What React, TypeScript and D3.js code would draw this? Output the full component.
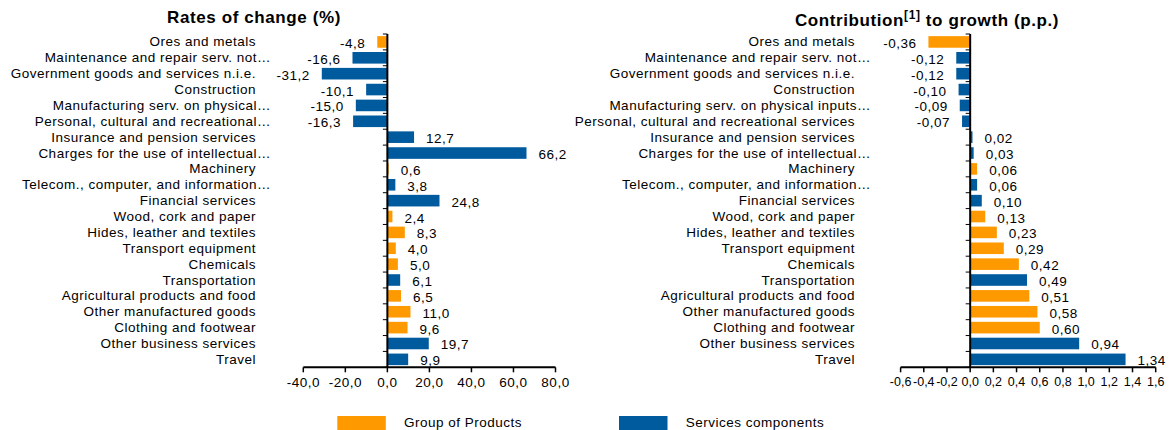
import React from "react";
import * as d3 from "d3";

const categoriesLeft = [
  "Ores and metals",
  "Maintenance and repair serv. not…",
  "Government goods and services n.i.e.",
  "Construction",
  "Manufacturing serv. on physical…",
  "Personal, cultural and recreational…",
  "Insurance and pension services",
  "Charges for the use of intellectual…",
  "Machinery",
  "Telecom., computer, and information…",
  "Financial services",
  "Wood, cork and paper",
  "Hides, leather and textiles",
  "Transport equipment",
  "Chemicals",
  "Transportation",
  "Agricultural products and food",
  "Other manufactured goods",
  "Clothing and footwear",
  "Other business services",
  "Travel",
];

const categoriesRight = [
  "Ores and metals",
  "Maintenance and repair serv. not…",
  "Government goods and services n.i.e.",
  "Construction",
  "Manufacturing serv. on physical inputs…",
  "Personal, cultural and recreational services",
  "Insurance and pension services",
  "Charges for the use of intellectual…",
  "Machinery",
  "Telecom., computer, and information…",
  "Financial services",
  "Wood, cork and paper",
  "Hides, leather and textiles",
  "Transport equipment",
  "Chemicals",
  "Transportation",
  "Agricultural products and food",
  "Other manufactured goods",
  "Clothing and footwear",
  "Other business services",
  "Travel",
];

// "P" = Group of Products, "S" = Services components
const groups = ["P", "S", "S", "S", "S", "S", "S", "S", "P", "S", "S", "P", "P", "P", "P", "S", "P", "P", "P", "S", "S"];

const rates = [-4.8, -16.6, -31.2, -10.1, -15.0, -16.3, 12.7, 66.2, 0.6, 3.8, 24.8, 2.4, 8.3, 4.0, 5.0, 6.1, 6.5, 11.0, 9.6, 19.7, 9.9];
const contributions = [-0.36, -0.12, -0.12, -0.1, -0.09, -0.07, 0.02, 0.03, 0.06, 0.06, 0.1, 0.13, 0.23, 0.29, 0.42, 0.49, 0.51, 0.58, 0.6, 0.94, 1.34];

const rateTicks = [-40, -20, 0, 20, 40, 60, 80];
const contribTicks = [-0.6, -0.4, -0.2, 0, 0.2, 0.4, 0.6, 0.8, 1.0, 1.2, 1.4, 1.6];

const legendItems = [
  { key: "P", label: "Group of Products" },
  { key: "S", label: "Services components" },
];

const COLORS: Record<string, string> = { P: "#FF9900", S: "#005A9E" };
const FONT = "'Liberation Sans', Arial, sans-serif";
const FS = 13.5;
const LS = 0.5;

type PanelProps = {
  cats: string[];
  values: number[];
  ticks: number[];
  domain: [number, number];
  xRange: [number, number];
  labelX: number;
  labelXTrunc: number;
  decimals: number;
  tickFont: number;
  tickSpacing: number;
};

const Y_RANGE: [number, number] = [34, 367.3];

function fmt(v: number, d: number) {
  return v.toFixed(d).replace(".", ",");
}

function Panel({ cats, values, ticks, domain, xRange, labelX, labelXTrunc, decimals, tickFont, tickSpacing }: PanelProps) {
  const x = d3.scaleLinear().domain(domain).range(xRange);
  const idx = cats.map((_, i) => String(i));
  const y = d3.scaleBand().domain(idx).range(Y_RANGE).paddingInner(0.27).paddingOuter(0.135);
  const step = y.step();
  const x0 = x(0);
  const yBottom = Y_RANGE[1];
  return (
    <g>
      {values.map((v, i) => {
        const xa = x(Math.min(0, v));
        const xb = x(Math.max(0, v));
        return (
          <rect
            key={"b" + i}
            x={xa}
            y={y(String(i))!}
            width={Math.max(0.8, xb - xa)}
            height={y.bandwidth()}
            fill={COLORS[groups[i]]}
          />
        );
      })}
      {values.map((v, i) => {
        const cy = y(String(i))! + y.bandwidth() / 2 + 1.5;
        const neg = v < 0;
        return (
          <text
            key={"v" + i}
            x={neg ? x(v) - 12 : x(v) + 12}
            y={cy}
            dominantBaseline="central"
            textAnchor={neg ? "end" : "start"}
            fontSize={FS}
            letterSpacing={LS}
            fontFamily={FONT}
            fill="#000"
          >
            {fmt(v, decimals)}
          </text>
        );
      })}
      {cats.map((c, i) => (
        <text
          key={"c" + i}
          x={c.endsWith("…") ? labelXTrunc : labelX}
          y={y(String(i))! + y.bandwidth() / 2}
          dominantBaseline="central"
          textAnchor="end"
          fontSize={FS}
          letterSpacing={LS}
          fontFamily={FONT}
          fill="#000"
        >
          {c}
        </text>
      ))}
      <line x1={x0} x2={x0} y1={Y_RANGE[0]} y2={yBottom} stroke="#000" strokeWidth={2} />
      {d3.range(cats.length + 1).map((k) => {
        const yy = Y_RANGE[0] + k * step;
        return <line key={"yt" + k} x1={x0 - 4.5} x2={x0} y1={yy} y2={yy} stroke="#000" strokeWidth={1} />;
      })}
      <line x1={xRange[0]} x2={xRange[1]} y1={yBottom} y2={yBottom} stroke="#000" strokeWidth={2} />
      {ticks.map((t, k) => (
        <g key={"xt" + k}>
          <line x1={x(t)} x2={x(t)} y1={yBottom} y2={yBottom + 5} stroke="#000" strokeWidth={1.5} />
          <text
            x={x(t)}
            y={yBottom + 15}
            dominantBaseline="central"
            textAnchor="middle"
            fontSize={tickFont}
            letterSpacing={tickSpacing}
            fontFamily={FONT}
            fill="#000"
          >
            {fmt(t, 1)}
          </text>
        </g>
      ))}
    </g>
  );
}

export default function App() {
  return (
    <svg width={1172} height={430} style={{ display: "block", position: "absolute", left: 0, top: 0 }}>
      <rect width={1172} height={430} fill="#fff" />
      <text x={254} y={17.5} textAnchor="middle" dominantBaseline="central" fontSize={17} letterSpacing={0.6} fontWeight="bold" fontFamily={FONT}>
        Rates of change (%)
      </text>
      <text x={927} y={20} textAnchor="middle" dominantBaseline="central" fontSize={17} letterSpacing={0.6} fontWeight="bold" fontFamily={FONT}>
        Contribution
        <tspan fontSize={12} dy={-5}>[1]</tspan>
        <tspan dy={5}> to growth (p.p.)</tspan>
      </text>
      <Panel
        cats={categoriesLeft}
        values={rates}
        ticks={rateTicks}
        domain={[-40, 80]}
        xRange={[303.3, 555.5]}
        labelX={256}
        labelXTrunc={271}
        decimals={1}
        tickFont={FS}
        tickSpacing={LS}
      />
      <Panel
        cats={categoriesRight}
        values={contributions}
        ticks={contribTicks}
        domain={[-0.6, 1.6]}
        xRange={[900.6, 1155.7]}
        labelX={855}
        labelXTrunc={871}
        decimals={2}
        tickFont={12.5}
        tickSpacing={0}
      />
      {legendItems.map((it, i) => {
        const rx = [337.3, 619][i];
        return (
          <g key={it.key}>
            <rect x={rx} y={416} width={48.5} height={14} fill={COLORS[it.key]} />
            <text x={rx + 66.7} y={422} dominantBaseline="central" fontSize={FS} letterSpacing={LS} fontFamily={FONT}>
              {it.label}
            </text>
          </g>
        );
      })}
    </svg>
  );
}
